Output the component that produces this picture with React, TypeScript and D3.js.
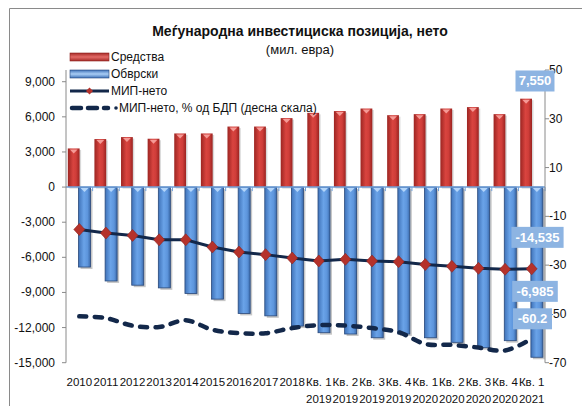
import React from "react";
import * as d3 from "d3";

// periods on the x axis; quarterly ones get the year on a second line
const categories = [
  "2010", "2011", "2012", "2013", "2014", "2015", "2016", "2017", "2018",
  "Кв. 1 2019", "Кв. 2 2019", "Кв. 3 2019", "Кв. 4 2019",
  "Кв. 1 2020", "Кв. 2 2020", "Кв. 3 2020", "Кв. 4 2020", "Кв. 1 2021",
];

// мил. евра
const assets = [3300, 4100, 4270, 4130, 4580, 4580, 5170, 5170, 5890, 6340, 6490, 6710, 6140, 6230, 6710, 6830, 6230, 7550];
const liabilities = [-6830, -8020, -8380, -8610, -9090, -9570, -10790, -11000, -11870, -12440, -12550, -12870, -12550, -12870, -13260, -13720, -13120, -14535];
const netPosition = [-3620, -3930, -4130, -4500, -4500, -5120, -5550, -5770, -6060, -6310, -6170, -6310, -6370, -6620, -6770, -6940, -7020, -6985];
// % од БДП, right axis
const netPctGdp = [-51.0, -51.7, -54.8, -55.4, -52.6, -56.5, -57.9, -57.9, -55.8, -54.6, -54.8, -55.8, -57.5, -62.3, -62.7, -63.8, -65.0, -60.2];

const leftTicks = [-15000, -12000, -9000, -6000, -3000, 0, 3000, 6000, 9000];
const rightTicks = [-70, -50, -30, -10, 10, 30, 50];

const legendItems = ["Средства", "Обврски", "МИП-нето", "МИП-нето, % од БДП (десна скала)"];

const W = 582;
const H = 406;
const plot = { left: 66, right: 545, top: 70, bottom: 362.7 };
const font = "'Liberation Sans', Arial, sans-serif";
const navy = "#13284a";

// plain hyphen for negatives, like the original
const fmt = (v: number) => d3.format(",")(v).replace("\u2212", "-");

function LabelBox({ cx, cy, text }: { cx: number; cy: number; text: string }) {
  const w = text.length * 6.6 + 6;
  return (
    <g>
      <rect x={cx - w / 2} y={cy - 10.5} width={w} height={21} fill="#8db4e2" />
      <text x={cx} y={cy} textAnchor="middle" dominantBaseline="central" fill="#fff"
        fontWeight="bold" fontSize={13} fontFamily={font}>{text}</text>
    </g>
  );
}

export default function App() {
  const x = d3.scaleBand().domain(categories).range([plot.left, plot.right]);
  const yL = d3.scaleLinear().domain([-15000, 10000]).range([plot.bottom, plot.top]);
  const yR = d3.scaleLinear().domain([-70, 50]).range([plot.bottom, plot.top]);
  const cx = (i: number) => (x(categories[i]) as number) + x.bandwidth() / 2;
  const y0 = yL(0);

  const netLine = d3.line<number>().x((_, i) => cx(i)).y((d) => yL(d));
  const pctLine = d3.line<number>().x((_, i) => cx(i)).y((d) => yR(d)).curve(d3.curveCatmullRom.alpha(0.5));

  const last = categories.length - 1;
  const rw = 11.8;
  const bw = 12;

  return (
    <svg width={W} height={H} style={{ position: "absolute", left: 0, top: 0, background: "#fff" }}>
      <defs>
        <linearGradient id="red" x1="0" x2="1" y1="0" y2="0">
          <stop offset="0" stopColor="#9c2522" />
          <stop offset="0.45" stopColor="#d9443f" />
          <stop offset="0.7" stopColor="#cf3d39" />
          <stop offset="1" stopColor="#9a2320" />
        </linearGradient>
        <linearGradient id="blue" x1="0" x2="1" y1="0" y2="0">
          <stop offset="0" stopColor="#3f72b8" />
          <stop offset="0.45" stopColor="#6aa3e8" />
          <stop offset="0.75" stopColor="#5d95dc" />
          <stop offset="1" stopColor="#3b6aaa" />
        </linearGradient>
        <linearGradient id="redLeg" x1="0" x2="0" y1="0" y2="1">
          <stop offset="0" stopColor="#a52a27" />
          <stop offset="0.5" stopColor="#e36a66" />
          <stop offset="1" stopColor="#a52a27" />
        </linearGradient>
        <linearGradient id="blueLeg" x1="0" x2="0" y1="0" y2="1">
          <stop offset="0" stopColor="#3f72b8" />
          <stop offset="0.5" stopColor="#a9cdf5" />
          <stop offset="1" stopColor="#3f72b8" />
        </linearGradient>
      </defs>

      {/* frame */}
      <path d={`M9.5,${H} V8.5 H${W}`} fill="none" stroke="#8a8a8a" />

      {/* title */}
      <text x={300} y={31} textAnchor="middle" dominantBaseline="central" fontFamily={font}
        fontWeight="bold" fontSize={14} fill="#111">Меѓународна инвестициска позиција, нето</text>
      <text x={300} y={49} textAnchor="middle" dominantBaseline="central" fontFamily={font}
        fontSize={13} fill="#111">(мил. евра)</text>

      {/* assets */}
      {assets.map((v, i) => {
        const bx = cx(i) - 11.5;
        return (
          <g key={"a" + i}>
            <rect x={bx + 1.5} y={yL(v) + 1.5} width={rw} height={y0 - yL(v)} fill="#000" opacity={0.15} />
            <rect x={bx} y={yL(v)} width={rw} height={y0 - yL(v)} fill="url(#red)" />
            <path d={`M${bx + 2},${yL(v) + 1} H${bx + rw - 2} L${bx + rw / 2},${yL(v) + 5} Z`} fill="#f59a96" />
          </g>
        );
      })}

      {/* liabilities */}
      {liabilities.map((v, i) => {
        const bx = cx(i) - 0.8;
        return (
          <g key={"l" + i}>
            <rect x={bx + 2} y={y0 + 2} width={bw} height={yL(v) - y0} fill="#000" opacity={0.22} />
            <rect x={bx} y={y0} width={bw} height={yL(v) - y0} fill="url(#blue)" stroke="#28487a" strokeWidth={0.8} />
            <path d={`M${bx + 2},${y0 + 1} H${bx + bw - 2} L${bx + bw / 2},${y0 + 5} Z`} fill="#b4d6fa" />
          </g>
        );
      })}

      {/* zero line with category ticks */}
      <line x1={plot.left} x2={plot.right} y1={y0} y2={y0} stroke="#6f9fd8" strokeWidth={1.5} />
      {categories.map((c, i) => (
        <line key={"t" + i} x1={(x(c) as number) + x.bandwidth()} x2={(x(c) as number) + x.bandwidth()}
          y1={y0} y2={y0 + 4} stroke="#6f9fd8" />
      ))}

      {/* left axis */}
      <line x1={plot.left} x2={plot.left} y1={plot.top} y2={plot.bottom} stroke="#8a8a8a" />
      {leftTicks.map((t) => (
        <g key={"yl" + t}>
          <line x1={plot.left - 4} x2={plot.left} y1={yL(t)} y2={yL(t)} stroke="#8a8a8a" />
          <text x={55} y={yL(t)} textAnchor="end" dominantBaseline="central" fontFamily={font}
            fontSize={12} fill="#111">{fmt(t)}</text>
        </g>
      ))}

      {/* right axis */}
      <line x1={plot.right} x2={plot.right} y1={plot.top} y2={plot.bottom} stroke="#8a8a8a" />
      {rightTicks.map((t) => (
        <g key={"yr" + t}>
          <line x1={plot.right} x2={plot.right + 4} y1={yR(t)} y2={yR(t)} stroke="#8a8a8a" />
          <text x={549} y={yR(t)} dominantBaseline="central" fontFamily={font}
            fontSize={12} fill="#111">{t}</text>
        </g>
      ))}

      {/* x labels */}
      {categories.map((c, i) => {
        const q = c.startsWith("Кв.");
        const top = q ? c.slice(0, 5) : c;
        const bottom = q ? c.slice(6) : "";
        return (
          <g key={"xl" + i} fontFamily={font} fontSize={11.5} fill="#111">
            <text x={cx(i)} y={382} textAnchor="middle" dominantBaseline="central">{top}</text>
            {bottom && <text x={cx(i)} y={399} textAnchor="middle" dominantBaseline="central">{bottom}</text>}
          </g>
        );
      })}

      {/* net % of GDP, dashed */}
      <path d={pctLine(netPctGdp) as string} fill="none" stroke={navy} strokeWidth={4.5}
        strokeDasharray="7 8.5" strokeLinecap="round" />

      {/* net position */}
      <path d={netLine(netPosition) as string} fill="none" stroke={navy} strokeWidth={3} />
      {netPosition.map((v, i) => (
        <path key={"d" + i} transform={`translate(${cx(i)},${yL(v)})`} d="M0,-6 L5.5,0 L0,6 L-5.5,0 Z"
          fill="#b5322b" stroke="#8e2420" strokeWidth={0.6} />
      ))}

      {/* legend */}
      <g fontFamily={font} fontSize={12} fill="#111">
        <rect x={70} y={53} width={39} height={8} fill="url(#redLeg)" stroke="#8e2420" strokeWidth={0.6} />
        <text x={111} y={57} dominantBaseline="central">{legendItems[0]}</text>
        <rect x={70} y={70} width={39} height={8} fill="url(#blueLeg)" stroke="#28487a" strokeWidth={0.6} />
        <text x={111} y={74} dominantBaseline="central">{legendItems[1]}</text>
        <line x1={70} x2={109} y1={91} y2={91} stroke={navy} strokeWidth={3} />
        <path transform="translate(89.5,91)" d="M0,-3.5 L3.5,0 L0,3.5 L-3.5,0 Z" fill="#b5322b" />
        <text x={111} y={91} dominantBaseline="central">{legendItems[2]}</text>
        <line x1={72} x2={108} y1={108} y2={108} stroke={navy} strokeWidth={4.5} strokeDasharray="9 7" strokeLinecap="round" />
        <circle cx={116} cy={108} r={1.8} fill={navy} />
        <text x={119} y={108} dominantBaseline="central">{legendItems[3]}</text>
      </g>

      {/* data labels for the last period */}
      <LabelBox cx={cx(last) + 3.3} cy={yL(assets[last]) - 17.7} text={fmt(assets[last])} />
      <LabelBox cx={cx(last) + 5.8} cy={yL(netPosition[last]) - 31.5} text={fmt(liabilities[last])} />
      <LabelBox cx={cx(last) + 3.3} cy={yL(netPosition[last]) + 22.5} text={fmt(netPosition[last])} />
      <LabelBox cx={cx(last) + 0.8} cy={yR(netPctGdp[last]) - 20} text={netPctGdp[last].toFixed(1)} />
    </svg>
  );
}
